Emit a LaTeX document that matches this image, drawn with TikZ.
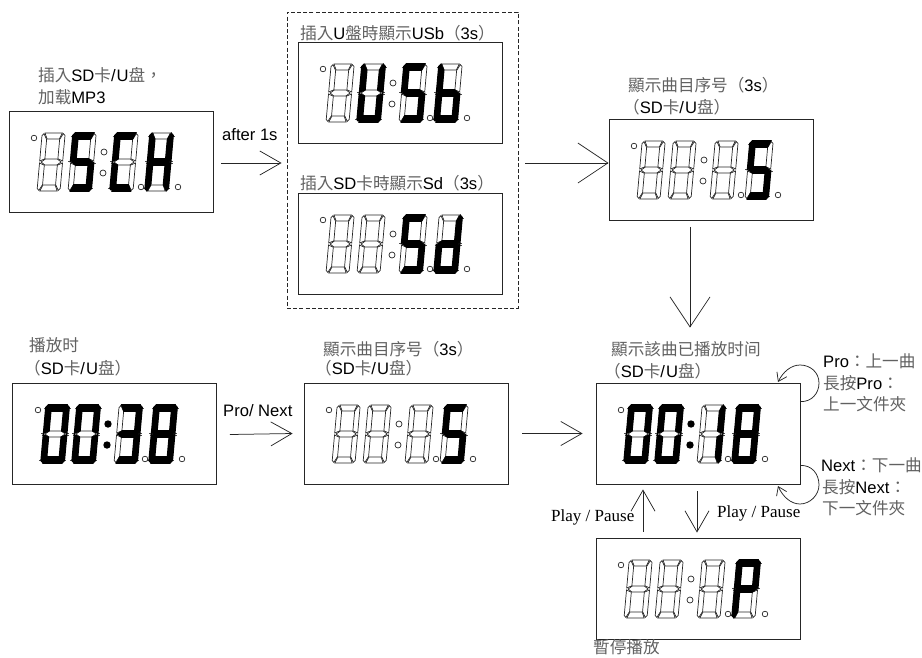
\documentclass[tikz,border=0pt]{standalone}
\usepackage{fontspec}
\usetikzlibrary{arrows.meta}
\setmainfont{Liberation Sans}
\newfontfamily\cjkf{Noto Sans CJK TC}
\newfontfamily\serf{Liberation Serif}
\definecolor{cjkgray}{gray}{0.38}
\newcommand{\C}[1]{{\cjkf\color{cjkgray}#1}}
\newcommand{\flp}{\C{\symbol{"FF08}}}
\newcommand{\frp}{\C{\symbol{"FF09}}}
\newcommand{\fcl}{\C{\symbol{"FF1A}}}
\newcommand{\fcm}{\C{\symbol{"FF0C}}}
% segments, upright digit coordinates (u right, v up)
\def\sega{(2.8,58)--(20.2,58)--(17.6,52)--(5.4,52)--cycle}
\def\segb{(23,55.5)--(21.2,57.4)--(18,51.5)--(18,32.2)--(23,30)--cycle}
\def\segc{(23,2.5)--(21.2,0.6)--(18,6.5)--(18,25.8)--(23,28)--cycle}
\def\segd{(2.8,0)--(20.2,0)--(17.6,6)--(5.4,6)--cycle}
\def\sege{(0,2.5)--(1.8,0.6)--(5,6.5)--(5,25.8)--(0,28)--cycle}
\def\segf{(0,55.5)--(1.8,57.4)--(5,51.5)--(5,32.2)--(0,30)--cycle}
\def\segg{(1.5,29)--(5.5,32)--(17.5,32)--(21.5,29)--(17.5,26)--(5.5,26)--cycle}
\def\segn{(0,0)}
% hair-thin spikes that stick out of lit segments
\def\haira{(1,57.5)--(3,57.5)}
\def\hairb{(23,55)--(25.5,55) (23,30)--(25,30)}
\def\hairc{(23,3)--(25,3) (23,28)--(25,28)}
\def\haird{(1,0.5)--(3,0.5)}
\def\haire{(-2.5,3)--(0,3) (-2,28)--(0,28)}
\def\hairf{(-2,55)--(0,55) (-2.5,30)--(0,30)}
\def\hairg{(0,29)--(2,29)}
\def\hairn{(0,0)}
\tikzset{
  lbl/.style={anchor=west,inner sep=0pt,font=\fontsize{16.6}{18}\selectfont},
  serlbl/.style={anchor=west,inner sep=0pt,font=\serf\fontsize{17}{18}\selectfont},
  lcdbox/.style={draw=black!85,line width=0.8pt,minimum width=204pt,minimum height=101pt,inner sep=0pt},
  dashbox/.style={draw=black!85,line width=0.8pt,dash pattern=on 4pt off 2.2pt,minimum width=231pt,minimum height=296pt,inner sep=0pt},
  offseg/.style={draw=black!85,line width=0.7pt,line join=miter},
  litseg/.style={draw=black,fill=black,line width=1.7pt,line join=miter},
  hairseg/.style={draw=black!70,line width=0.4pt},
  dotmark/.style={draw=black!85,line width=0.7pt},
  bigarr/.style={draw=black!85,line width=0.75pt,-{Straight Barb[length=30pt,width=40pt,line width=0.75pt]}},
  midarr/.style={draw=black!85,line width=0.75pt,-{Straight Barb[length=21pt,width=24pt,line width=0.75pt]}},
  looparr/.style={draw=black!85,line width=0.75pt,-{Straight Barb[length=8pt,width=11pt,line width=0.75pt]}},
}
% #1 = left x, #2 = bottom y, #3 = lit segments
\newcommand{\lcddigit}[3]{%
  \begin{scope}[shift={(#1,#2)},y=1pt,xslant=0.09]
    \foreach \sg in {a,b,c,d,e,f,g}{%
      \expandafter\let\expandafter\cursg\csname seg\sg\endcsname
      \path[offseg] \cursg;}
    \foreach \sg in {#3}{%
      \expandafter\let\expandafter\cursg\csname hair\sg\endcsname
      \path[hairseg] \cursg;
      \expandafter\let\expandafter\cursg\csname seg\sg\endcsname
      \path[litseg] \cursg;}
  \end{scope}}
\newcommand{\facedigits}[4]{%
  \lcddigit{28}{80}{#1}\lcddigit{59}{80}{#2}\lcddigit{101}{80}{#3}\lcddigit{136}{80}{#4}
  \draw[dotmark] (25,27) circle (2.8);
  \draw[dotmark] (132,76) circle (2.8);
  \draw[dotmark] (169,76) circle (2.8);}
\newcommand{\facew}[6]{\begin{scope}[shift={(#1,#2)}]
  \facedigits{#3}{#4}{#5}{#6}
  \draw[dotmark] (95,41) circle (3);
  \draw[dotmark] (94,62) circle (3);
\end{scope}}
\newcommand{\faceb}[6]{\begin{scope}[shift={(#1,#2)}]
  \facedigits{#3}{#4}{#5}{#6}
  \fill (95,41) circle (3.7);
  \fill (94,62) circle (3.7);
\end{scope}}
\begin{document}
\begin{tikzpicture}[x=1pt,y=-1pt]
\useasboundingbox (0,0) rectangle (922,657);
% boxes
\node[lcdbox] (chk) at (111,161.5) {};
\node[dashbox] (grp) at (402.5,160) {};
\node[lcdbox] (usb) at (400,92.5) {};
\node[lcdbox] (sd) at (400,243.5) {};
\node[lcdbox] (idxa) at (711,170) {};
\node[lcdbox] (play) at (114.5,434) {};
\node[lcdbox] (idxb) at (406,433.5) {};
\node[lcdbox] (time) at (698,433.5) {};
\node[lcdbox] (paus) at (698,588.5) {};
% faces
\facew{9}{111}{n}{a,f,g,c,d}{a,f,e,d}{f,b,g,e,c}
\facew{298}{42}{n}{f,b,e,c,d}{a,f,g,c,d}{f,g,e,c,d}
\facew{298}{193}{n}{n}{a,f,g,c,d}{b,g,c,d,e}
\facew{609}{119}{n}{n}{n}{a,f,g,c,d}
\faceb{13}{383}{a,b,c,d,e,f}{a,b,c,d,e,f}{a,b,g,c,d}{a,b,c,d,e,f,g}
\facew{304}{383}{n}{n}{n}{a,f,g,c,d}
\faceb{596}{383}{a,b,c,d,e,f}{a,b,c,d,e,f}{b,c}{a,b,c,d,e,f,g}
\facew{596}{538}{n}{n}{n}{a,b,f,g,e}
% labels
\node[lbl] (t1) at (38,75) {\C{插入}SD\C{卡}/\kern1pt U\C{盘}\fcm};
\node[lbl] (t2) at (38,97) {\C{加载}MP3};
\node[lbl] (t3) at (222,135) {after 1s};
\node[lbl] (t4) at (300,33) {\C{插入}U\C{盤時顯示}USb\flp 3s\frp};
\node[lbl] (t5) at (300,183) {\C{插入}SD\C{卡時顯示}Sd\flp 3s\frp};
\node[lbl] (t6) at (628,85) {\C{顯示曲目序号}\flp 3s\frp};
\node[lbl] (t7) at (623,107) {\flp SD\C{卡}/\kern1pt U\C{盘}\frp};
\node[lbl] (t8) at (29,345) {\C{播放时}};
\node[lbl] (t9) at (24,368) {\flp SD\C{卡}/\kern1pt U\C{盘}\frp};
\node[lbl] (t10) at (223,411) {Pro/ Next};
\node[lbl] (t11) at (323,349) {\C{顯示曲目序号}\flp 3s\frp};
\node[lbl] (t12) at (315,368) {\flp SD\C{卡}/\kern1pt U\C{盘}\frp};
\node[lbl] (t13) at (611,349) {\C{顯示該曲已播放时间}};
\node[lbl] (t14) at (604,371) {\flp SD\C{卡}/\kern1pt U\C{盘}\frp};
\node[lbl] (t15) at (823,361) {Pro\fcl\C{上一曲}};
\node[lbl] (t16) at (823,383) {\C{長按}Pro\fcl};
\node[lbl] (t17) at (823,404) {\C{上一文件夾}};
\node[lbl] (t18) at (821,465) {Next\fcl\C{下一曲}};
\node[lbl] (t19) at (822,487) {\C{長按}Next\fcl};
\node[lbl] (t20) at (822,508) {\C{下一文件夾}};
\node[serlbl] (t21) at (717,513) {Play / Pause};
\node[serlbl] (t22) at (551,517) {Play / Pause};
\node[lbl] (t23) at (593,647.5) {\C{暫停播放}};
% connectors
\draw[midarr] ([xshift=8pt,yshift=-1.5pt]chk.east) -- ([xshift=-5pt,yshift=-3pt]grp.west);
\draw[bigarr] ([xshift=7pt,yshift=-3pt]grp.east) -- ([yshift=7pt]idxa.west);
\draw[bigarr] ([xshift=-21pt,yshift=-6pt]idxa.south) -- ([xshift=-8pt,yshift=55pt]time.north);
\draw[midarr] ([xshift=13pt,yshift=-0.5pt]play.east) -- ([xshift=-11pt]idxb.west);
\draw[midarr] ([xshift=14pt]idxb.east) -- ([xshift=-13pt]time.west);
\draw[midarr] ([xshift=-55pt,yshift=6pt]paus.north) -- ([xshift=-55pt,yshift=-5pt]time.south);
\draw[midarr] ([xshift=-1pt,yshift=-7pt]time.south) -- ([xshift=-1pt,yshift=5pt]paus.north);
\draw[looparr] ([yshift=-19pt]time.north east) .. controls (812,402) and (819,393) .. (819,383) .. controls (819,372) and (810,365) .. (800,365) .. controls (791,365) and (783,372) .. (778,382);
\draw[looparr] ([yshift=19pt]time.south east) .. controls (812,465) and (819,474) .. (819,485) .. controls (819,495) and (810,504) .. (800,504) .. controls (791,504) and (783,497) .. (778,486);
\end{tikzpicture}
\end{document}
